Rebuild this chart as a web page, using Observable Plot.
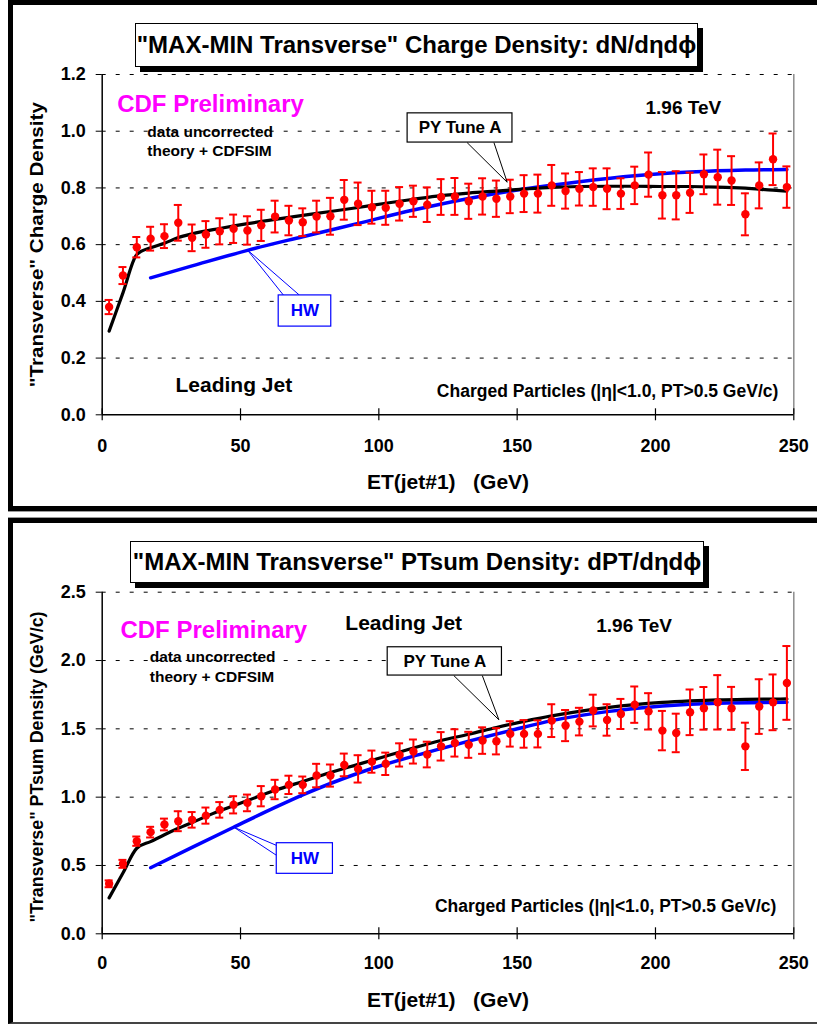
<!DOCTYPE html>
<html>
<head>
<meta charset="utf-8">
<script src="https://cdn.jsdelivr.net/npm/d3@7"></script>
<script src="https://cdn.jsdelivr.net/npm/@observablehq/plot@0.6"></script>
<style>
  html, body { margin: 0; padding: 0; background: #fff; }
  #page { position: relative; width: 817px; height: 1024px; overflow: hidden; font-family: "Liberation Sans", Arial, sans-serif; }
  .panel { position: absolute; left: 8px; right: -20px; box-sizing: border-box; border-left: 5px solid #000; pointer-events: none; z-index: 2; }
  #panelTop { top: 0; height: 511px; border-top: 5px solid #000; border-bottom: 5px solid #000; box-shadow: 0 1px 0 #9a9a9a; }
  #panelBottom { top: 518px; height: 506px; border-top: 5px solid #000; border-bottom: 2px solid #444; box-shadow: 0 -1px 0 #9a9a9a; }
  .chart { position: absolute; left: 0; z-index: 1; }
  .title { position: absolute; z-index: 3; background: #fff; border: 1px solid #000; box-shadow: 5px 5px 0 #000;
           font: bold 24px "Liberation Sans", Arial, sans-serif; color: #000; display: flex; align-items: center;
           justify-content: center; white-space: nowrap; box-sizing: border-box; }
  #titleTop { left: 135px; top: 23px; width: 563px; height: 44px; }
  #titleBottom { left: 130px; top: 541px; width: 574px; height: 42px; }
</style>
</head>
<body>
<div id="page">
  <div class="panel" id="panelTop"></div>
  <div class="panel" id="panelBottom"></div>
  <div class="title" id="titleTop">"MAX-MIN Transverse" Charge Density: dN/dηdϕ</div>
  <div class="title" id="titleBottom">"MAX-MIN Transverse" PTsum Density: dPT/dηdϕ</div>
  <div class="chart" id="chartTop" style="top:0px"></div>
  <div class="chart" id="chartBottom" style="top:523px"></div>
</div>
<script>
// ---- data: 5 GeV bins in ET of the leading jet ----
const etBins = [2.5, 7.5, 12.5, 17.5, 22.5, 27.5, 32.5, 37.5, 42.5, 47.5,
  52.5, 57.5, 62.5, 67.5, 72.5, 77.5, 82.5, 87.5, 92.5, 97.5,
  102.5, 107.5, 112.5, 117.5, 122.5, 127.5, 132.5, 137.5, 142.5, 147.5,
  152.5, 157.5, 162.5, 167.5, 172.5, 177.5, 182.5, 187.5, 192.5, 197.5,
  202.5, 207.5, 212.5, 217.5, 222.5, 227.5, 232.5, 237.5, 242.5, 247.5];

// "Transverse" charge density (data, uncorrected) and its uncertainty
const chargeDensity = [0.380, 0.491, 0.591, 0.621, 0.630, 0.677, 0.624, 0.636, 0.647, 0.656,
  0.650, 0.668, 0.699, 0.685, 0.679, 0.699, 0.700, 0.758, 0.744, 0.732,
  0.730, 0.744, 0.753, 0.741, 0.768, 0.770, 0.753, 0.770, 0.762, 0.770,
  0.780, 0.780, 0.809, 0.789, 0.797, 0.803, 0.797, 0.780, 0.809, 0.847,
  0.774, 0.774, 0.783, 0.848, 0.838, 0.826, 0.707, 0.809, 0.901, 0.803];
const chargeError = [0.025, 0.030, 0.036, 0.042, 0.042, 0.063, 0.047, 0.047, 0.046, 0.050,
  0.050, 0.055, 0.056, 0.052, 0.049, 0.056, 0.065, 0.070, 0.075, 0.058,
  0.060, 0.059, 0.055, 0.061, 0.063, 0.065, 0.062, 0.064, 0.064, 0.059,
  0.065, 0.067, 0.072, 0.062, 0.059, 0.066, 0.072, 0.054, 0.066, 0.078,
  0.082, 0.085, 0.071, 0.070, 0.097, 0.086, 0.074, 0.081, 0.091, 0.073];

// "Transverse" PTsum density (GeV/c) and its uncertainty
const ptsumDensity = [0.366, 0.512, 0.678, 0.744, 0.800, 0.824, 0.834, 0.865, 0.907, 0.944,
  0.958, 1.007, 1.056, 1.090, 1.090, 1.158, 1.158, 1.236, 1.207, 1.260,
  1.244, 1.309, 1.334, 1.312, 1.372, 1.397, 1.383, 1.414, 1.409, 1.463,
  1.463, 1.463, 1.560, 1.524, 1.553, 1.634, 1.565, 1.609, 1.677, 1.628,
  1.487, 1.470, 1.621, 1.650, 1.694, 1.650, 1.372, 1.663, 1.694, 1.836];
const ptsumError = [0.025, 0.029, 0.034, 0.039, 0.043, 0.073, 0.057, 0.059, 0.057, 0.063,
  0.061, 0.074, 0.071, 0.067, 0.061, 0.086, 0.081, 0.083, 0.100, 0.081,
  0.082, 0.085, 0.088, 0.094, 0.104, 0.100, 0.095, 0.097, 0.096, 0.093,
  0.101, 0.099, 0.120, 0.114, 0.101, 0.116, 0.115, 0.110, 0.133, 0.133,
  0.144, 0.141, 0.167, 0.156, 0.199, 0.157, 0.173, 0.200, 0.204, 0.270];

// PYTHIA Tune A prediction (theory + CDFSIM)
const pyET = [2.5, 7.5, 12.5, 17.5, 22.5, 27.5, 32.5, 42.5, 52.5, 62.5, 72.5, 82.5, 92.5, 102.5, 112.5,
  122.5, 132.5, 142.5, 152.5, 162.5, 172.5, 182.5, 192.5, 202.5, 212.5, 222.5, 232.5, 242.5, 247.5];
const pyCharge = [0.295, 0.430, 0.565, 0.589, 0.605, 0.625, 0.638, 0.657, 0.674, 0.689, 0.703, 0.717, 0.731, 0.746, 0.760,
  0.773, 0.782, 0.789, 0.796, 0.802, 0.805, 0.806, 0.806, 0.805, 0.805, 0.803, 0.799, 0.792, 0.789];
const pyPtsum = [0.263, 0.445, 0.626, 0.675, 0.725, 0.772, 0.815, 0.900, 0.975, 1.050, 1.115, 1.180, 1.240, 1.300, 1.360,
  1.415, 1.460, 1.510, 1.555, 1.595, 1.628, 1.655, 1.677, 1.693, 1.704, 1.712, 1.716, 1.718, 1.719];

// HERWIG prediction (theory + CDFSIM)
const hwChargeET = [17.5, 32.5, 52.5, 72.5, 92.5, 112.5, 132.5, 152.5, 172.5, 192.5, 212.5, 232.5, 247.5];
const hwCharge = [0.483, 0.525, 0.580, 0.628, 0.675, 0.722, 0.763, 0.796, 0.822, 0.843, 0.856, 0.863, 0.865];
const hwPtsumET = [17.5, 32.5, 47.5, 62.5, 72.5, 82.5, 97.5, 112.5, 122.5, 132.5, 147.5, 162.5, 182.5, 202.5, 222.5, 247.5];
const hwPtsum = [0.483, 0.633, 0.780, 0.925, 1.017, 1.100, 1.210, 1.300, 1.355, 1.410, 1.487, 1.560, 1.626, 1.668, 1.688, 1.694];

// axes
const etDomain = [0, 250];
const etTicks = [0, 50, 100, 150, 200, 250];
const chargeTicks = [0, 0.2, 0.4, 0.6, 0.8, 1.0, 1.2];
const ptsumTicks = [0, 0.5, 1.0, 1.5, 2.0, 2.5];
const xTitle = "ET(jet#1)\u00a0\u00a0\u00a0(GeV)";

const FONT = '"Liberation Sans", Arial, Helvetica, sans-serif';
const RED = "#ff0000", BLUE = "#0000ff", MAGENTA = "#ff00ff";
const bold = {fontFamily: FONT, fontWeight: "bold"};

function densityChart(o) {
  const points = etBins.map((et, i) => ({et, v: o.values[i], e: o.errors[i]}));
  const py = pyET.map((et, i) => ({et, v: o.py[i]}));
  const hw = o.hwET.map((et, i) => ({et, v: o.hw[i]}));
  const pointers = (c) => [
    {x1: c.tip[0], y1: c.tip[1], x2: c.base[0][0], y2: c.base[0][1]},
    {x1: c.tip[0], y1: c.tip[1], x2: c.base[1][0], y2: c.base[1][1]}
  ];
  const callout = (c, color) => [
    Plot.link(pointers(c), {x1: "x1", y1: "y1", x2: "x2", y2: "y2", stroke: color, strokeWidth: 1}),
    Plot.rect([c], {x1: d => d.box[0], x2: d => d.box[1], y1: d => d.box[2], y2: d => d.box[3],
      fill: "#fff", stroke: color, strokeWidth: 1.2}),
    Plot.text([c], {x: d => (d.box[0] + d.box[1]) / 2, y: d => (d.box[2] + d.box[3]) / 2, text: "label",
      lineAnchor: "middle", fontSize: 17, fill: color === "#000" ? "#000" : color, ...bold})
  ];
  const note = (n) => Plot.text([n], {x: "x", y: "y", text: "text", lineAnchor: "bottom",
    textAnchor: n.anchor || "start", fontSize: n.size, fill: n.color || "#000", ...bold});

  const svg = Plot.plot({
    width: 817,
    height: o.height,
    marginLeft: 101.7,
    marginRight: 23.7,
    marginTop: o.marginTop,
    marginBottom: o.marginBottom,
    x: {domain: etDomain},
    y: {domain: [0, o.yTicks[o.yTicks.length - 1]]},
    style: {fontFamily: FONT, background: "transparent", overflow: "visible", color: "#000"},
    marks: [
      Plot.gridY(o.yTicks.filter(t => t > 0), {stroke: "#000", strokeOpacity: 1, strokeDasharray: "4,10"}),
      Plot.ruleX([etDomain[1]], {stroke: "#8c8c8c", strokeWidth: 1.5}),
      Plot.line(hw, {x: "et", y: "v", stroke: BLUE, strokeWidth: 3.5, curve: "monotone-x"}),
      Plot.line(py, {x: "et", y: "v", stroke: "#000", strokeWidth: 3.2, curve: "monotone-x"}),
      ...callout(o.hwCallout, BLUE),
      Plot.ruleX(points, {x: "et", y1: d => d.v - d.e, y2: d => d.v + d.e, stroke: RED, strokeWidth: 2}),
      Plot.ruleY(points, {y: d => d.v + d.e, x1: "et", x2: "et", insetLeft: -4, insetRight: -4, stroke: RED, strokeWidth: 2}),
      Plot.ruleY(points, {y: d => d.v - d.e, x1: "et", x2: "et", insetLeft: -4, insetRight: -4, stroke: RED, strokeWidth: 2}),
      Plot.dot(points, {x: "et", y: "v", r: 4.2, fill: RED}),
      ...callout(o.pyCallout, "#000"),
      ...o.notes.map(note),
      Plot.ruleX([etDomain[0]], {stroke: "#000", strokeWidth: 1.5}),
      Plot.ruleY([0], {stroke: "#000", strokeWidth: 1.5}),
      Plot.ruleX(etTicks, {x: d => d, y1: 0, y2: 0, insetTop: -6, insetBottom: -6, stroke: "#000", strokeWidth: 1.2}),
      Plot.axisY(o.yTicks, {tickSize: 6, tickPadding: 10.5, tickFormat: d3.format(".1f"), fontSize: 18, label: null, ...bold}),
      Plot.axisX(etTicks, {tickSize: 0, tickPadding: o.xPad, fontSize: 18, label: null, ...bold}),
      Plot.text([o.yTitle], {text: d => d, frameAnchor: "left", rotate: -90, dx: -58.7, dy: o.yTitleDy,
        lineAnchor: "bottom", textAnchor: "middle", fontSize: 18, ...bold}),
      Plot.text([xTitle], {text: d => d, frameAnchor: "bottom", dy: o.xTitleDy, lineAnchor: "bottom",
        textAnchor: "middle", fontSize: 21, ...bold})
    ]
  });
  d3.select(svg).selectAll("text")
    .filter(function () { return this.textContent === o.yTitle; })
    .attr("textLength", o.yTitleLength)
    .attr("lengthAdjust", "spacingAndGlyphs");
  return svg;
}

document.getElementById("chartTop").append(densityChart({
  values: chargeDensity, errors: chargeError,
  py: pyCharge, hwET: hwChargeET, hw: hwCharge,
  yTicks: chargeTicks, height: 505, marginTop: 74, marginBottom: 90.7, xPad: 24.6,
  yTitle: "\"Transverse\" Charge Density", yTitleDy: 0, yTitleLength: 285, xTitleDy: 74.5,
  pyCallout: {label: "PY Tune A", box: [110.4, 148.3, 0.960, 1.063], tip: [146.4, 0.82], base: [[131.9, 0.960], [141.6, 0.960]]},
  hwCallout: {label: "HW", box: [63.8, 82.8, 0.311, 0.421], tip: [52.4, 0.582], base: [[65.6, 0.421], [71.4, 0.421]]},
  notes: [
    {x: 5.4, y: 1.067, text: "CDF Preliminary", size: 24, color: MAGENTA},
    {x: 16.3, y: 0.981, text: "data uncorrected", size: 15.5},
    {x: 16.3, y: 0.913, text: "theory + CDFSIM", size: 15.5},
    {x: 196.4, y: 1.061, text: "1.96 TeV", size: 19},
    {x: 26.5, y: 0.082, text: "Leading Jet", size: 21},
    {x: 244.4, y: 0.064, text: "Charged Particles (|η|<1.0, PT>0.5 GeV/c)", size: 17.5, anchor: "end"}
  ]
}));

document.getElementById("chartBottom").append(densityChart({
  values: ptsumDensity, errors: ptsumError,
  py: pyPtsum, hwET: hwPtsumET, hw: hwPtsum,
  yTicks: ptsumTicks, height: 499, marginTop: 68.7, marginBottom: 88.7, xPad: 22,
  yTitle: "\"Transverse\" PTsum Density (GeV/c)", yTitleDy: 4, yTitleLength: 311, xTitleDy: 73,
  pyCallout: {label: "PY Tune A", box: [103.2, 144.5, 1.890, 2.097], tip: [143.4, 1.566], base: [[127.1, 1.890], [137.4, 1.890]]},
  hwCallout: {label: "HW", box: [63.1, 83.4, 0.439, 0.663], tip: [47.6, 0.780], base: [[63.1, 0.646], [63.1, 0.573]]},
  notes: [
    {x: 6.6, y: 2.166, text: "CDF Preliminary", size: 24, color: MAGENTA},
    {x: 17.2, y: 1.987, text: "data uncorrected", size: 15.5},
    {x: 17.2, y: 1.841, text: "theory + CDFSIM", size: 15.5},
    {x: 87.9, y: 2.224, text: "Leading Jet", size: 21},
    {x: 178.6, y: 2.207, text: "1.96 TeV", size: 19},
    {x: 243.7, y: 0.163, text: "Charged Particles (|η|<1.0, PT>0.5 GeV/c)", size: 17.5, anchor: "end"}
  ]
}));
</script>
</body>
</html>
